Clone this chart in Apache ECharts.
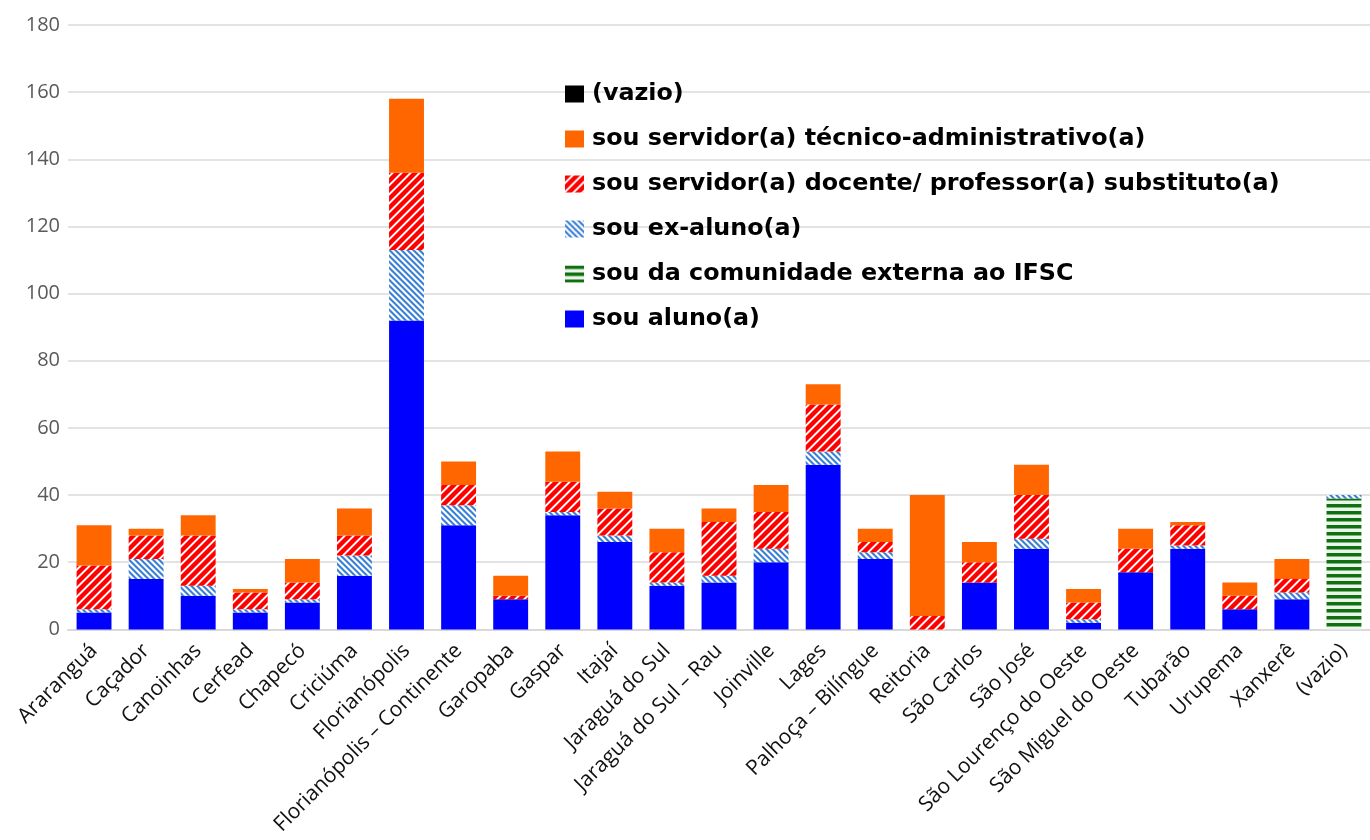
<!DOCTYPE html>
<html>
<head>
<meta charset="utf-8">
<script src="https://cdn.jsdelivr.net/npm/echarts@6/dist/echarts.min.js"></script>
<style>
html,body{margin:0;padding:0;background:#fff;}
#chart{width:1370px;height:840px;}
</style>
</head>
<body>
<div id="chart"></div>
<script>
// ---- data ----
var categories = ['Araranguá','Caçador','Canoinhas','Cerfead','Chapecó','Criciúma','Florianópolis','Florianópolis – Continente','Garopaba','Gaspar','Itajaí','Jaraguá do Sul','Jaraguá do Sul – Rau','Joinville','Lages','Palhoça – Bilíngue','Reitoria','São Carlos','São José','São Lourenço do Oeste','São Miguel do Oeste','Tubarão','Urupema','Xanxerê','(vazio)'];
var aluno      = [5,15,10,5,8,16,92,31,9,34,26,13,14,20,49,21,0,14,24,2,17,24,6,9,0];
var comunidade = [0,0,0,0,0,0,0,0,0,0,0,0,0,0,0,0,0,0,0,0,0,0,0,0,39];
var exAluno    = [1,6,3,1,1,6,21,6,0,1,2,1,2,4,4,2,0,0,3,1,0,1,0,2,1];
var docente    = [13,7,15,5,5,6,23,6,1,9,8,9,16,11,14,3,4,6,13,5,7,6,4,4,0];
var tecnico    = [12,2,6,1,7,8,22,7,6,9,5,7,4,8,6,4,36,6,9,4,6,1,4,6,0];
var vazio      = [0,0,0,0,0,0,0,0,0,0,0,0,0,0,0,0,0,0,0,0,0,0,0,0,0];
var seriesNames = ['sou aluno(a)','sou da comunidade externa ao IFSC','sou ex-aluno(a)','sou servidor(a) docente/ professor(a) substituto(a)','sou servidor(a) técnico-administrativo(a)','(vazio)'];
var yTicks = {min:0, max:180, interval:20};

// ---- patterns ----
function makePattern(size, inside, fg, bg) {
  var c = document.createElement('canvas');
  c.width = size; c.height = size;
  var ctx = c.getContext('2d');
  var img = ctx.createImageData(size, size);
  var S = 4;
  for (var y = 0; y < size; y++) {
    for (var x = 0; x < size; x++) {
      var cov = 0;
      for (var sy = 0; sy < S; sy++) for (var sx = 0; sx < S; sx++) {
        if (inside(x + (sx + 0.5) / S, y + (sy + 0.5) / S)) cov++;
      }
      var t = cov / (S * S);
      var i = (y * size + x) * 4;
      img.data[i]   = Math.round(fg[0] * t + bg[0] * (1 - t));
      img.data[i+1] = Math.round(fg[1] * t + bg[1] * (1 - t));
      img.data[i+2] = Math.round(fg[2] * t + bg[2] * (1 - t));
      img.data[i+3] = 255;
    }
  }
  ctx.putImageData(img, 0, 0);
  return {image: c, repeat: 'repeat'};
}
var redPat = makePattern(9, function (x, y) { return ((x + y) % 9) < 6.2; }, [255,0,0], [255,255,255]);
var bluePat = makePattern(6, function (x, y) { return (((x - y) % 6) + 6) % 6 < 3; }, [58,128,212], [255,255,255]);
var greenPat = makePattern(7, function (x, y) { return (y % 7) < 3.6; }, [16,112,16], [235,245,235]);

var colors = ['#0000FF', greenPat, bluePat, redPat, '#FF6600', '#000000'];
var dataSets = [aluno, comunidade, exAluno, docente, tecnico, vazio];

var series = seriesNames.map(function (name, i) {
  return {
    name: name,
    type: 'bar',
    stack: 'total',
    barWidth: '67%',
    itemStyle: {color: colors[i]},
    emphasis: {disabled: true},
    data: dataSets[i]
  };
});

var chart = echarts.init(document.getElementById('chart'), null, {renderer: 'canvas'});
chart.setOption({
  animation: false,
  backgroundColor: '#ffffff',
  grid: {left: 68, top: 25, width: 1310, height: 604.4, containLabel: false},
  legend: {
    orient: 'vertical',
    left: 560,
    top: 75,
    icon: 'rect',
    itemWidth: 19,
    itemHeight: 17,
    itemGap: 17,
    data: seriesNames.slice().reverse(),
    textStyle: {fontFamily: 'DejaVu Sans', fontWeight: 'bold', fontSize: 23.8, color: '#000', lineHeight: 28, padding: [0,0,0,3]}
  },
  xAxis: {
    type: 'category',
    data: categories,
    axisTick: {show: false},
    axisLine: {lineStyle: {color: '#d9d9d9', width: 2}},
    axisLabel: {rotate: 45, interval: 0, margin: 18, fontFamily: 'Open Sans', fontSize: 21, color: '#111'}
  },
  yAxis: {
    type: 'value',
    min: yTicks.min, max: yTicks.max, interval: yTicks.interval,
    axisLine: {show: false},
    axisTick: {show: false},
    splitLine: {lineStyle: {color: '#e3e3e3', width: 2}},
    axisLabel: {margin: 8, fontFamily: 'Open Sans', fontSize: 20, color: '#595959'}
  },
  series: series
});
</script>
</body>
</html>
